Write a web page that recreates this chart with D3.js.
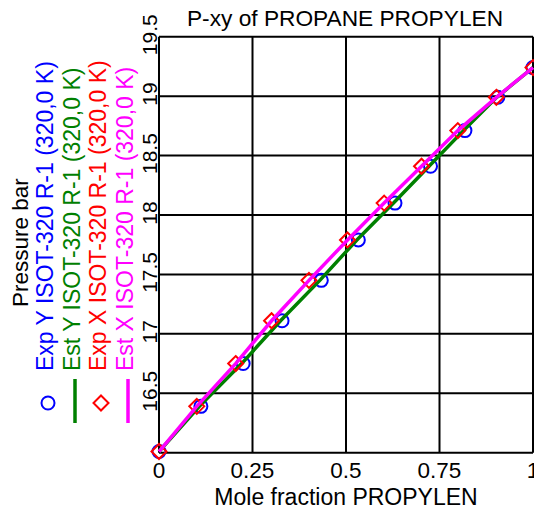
<!DOCTYPE html>
<html>
<head>
<meta charset="utf-8">
<script src="https://cdn.jsdelivr.net/npm/d3@7"></script>
<style>
  body { margin: 0; background: #fff; }
  svg { display: block; font-family: "Liberation Sans", Arial, sans-serif; }
</style>
</head>
<body>
<div id="chart"></div>
<script>
// data
var pressure = [16.01, 16.39, 16.75, 17.11, 17.45, 17.79, 18.10, 18.41, 18.71, 18.99, 19.24];
var expY = [0, 0.112, 0.225, 0.329, 0.434, 0.533, 0.631, 0.726, 0.818, 0.906, 1.0];   // vapour, circles
var expX = [0, 0.101, 0.205, 0.301, 0.401, 0.504, 0.602, 0.702, 0.799, 0.902, 1.0];   // liquid, diamonds
var estY = [0, 0.108, 0.221, 0.325, 0.430, 0.529, 0.627, 0.722, 0.814, 0.903, 1.0];
var estX = [0, 0.101, 0.205, 0.301, 0.401, 0.504, 0.602, 0.702, 0.799, 0.902, 1.0];

var xTicks = [0, 0.25, 0.5, 0.75, 1];
var yTicks = [16, 16.5, 17, 17.5, 18, 18.5, 19, 19.5];
var yLabels = ["16.5", "17", "17.5", "18", "18.5", "19", "19.5"];

var legendText = ["Exp Y ISOT-320 R-1 (320,0 K)", "Est Y ISOT-320 R-1 (320,0 K)",
                  "Exp X ISOT-320 R-1 (320,0 K)", "Est X ISOT-320 R-1 (320,0 K)"];
var legendColor = ["#0000ff", "#008000", "#ff0000", "#ff00ff"];

var width = 534, height = 510;

var svg = d3.select("#chart").append("svg")
    .attr("width", width)
    .attr("height", height);

var x = d3.scaleLinear().domain([0, 1]).range([159, 533]);
var y = d3.scaleLinear().domain([16, 19.5]).range([452.7, 36.7]);

// grid
svg.append("g").selectAll("line.v")
    .data(xTicks).enter().append("line")
    .attr("x1", function(d) { return x(d); })
    .attr("x2", function(d) { return x(d); })
    .attr("y1", y(16)).attr("y2", y(19.5))
    .attr("stroke", "#000").attr("stroke-width", 2);

svg.append("g").selectAll("line.h")
    .data(yTicks).enter().append("line")
    .attr("x1", x(0)).attr("x2", x(1))
    .attr("y1", function(d) { return y(d); })
    .attr("y2", function(d) { return y(d); })
    .attr("stroke", "#000").attr("stroke-width", 2);

// tick labels
svg.append("g").selectAll("text")
    .data(xTicks).enter().append("text")
    .attr("x", function(d) { return x(d); })
    .attr("y", 478)
    .attr("text-anchor", "middle")
    .attr("font-size", 22.5)
    .text(function(d) { return d; });

svg.append("g").selectAll("text")
    .data(yLabels).enter().append("text")
    .attr("transform", function(d) { return "translate(157," + (y(+d) - 2) + ") rotate(-90)"; })
    .attr("text-anchor", "middle")
    .attr("font-size", 21)
    .text(function(d) { return d; });

// titles
svg.append("text")
    .attr("x", 345).attr("y", 26)
    .attr("text-anchor", "middle")
    .attr("font-size", 22.7)
    .text("P-xy of PROPANE PROPYLEN");

svg.append("text")
    .attr("x", 346).attr("y", 505)
    .attr("text-anchor", "middle")
    .attr("font-size", 23)
    .text("Mole fraction PROPYLEN");

svg.append("text")
    .attr("transform", "translate(28,307) rotate(-90)")
    .attr("font-size", 22.5)
    .text("Pressure bar");

// series
var rows = pressure.map(function(p, i) {
    return {p: p, expY: expY[i], expX: expX[i], estY: estY[i], estX: estX[i]};
});

function diamond(cx, cy, r) {
    return "M" + cx + "," + (cy - r) + "L" + (cx + r) + "," + cy +
           "L" + cx + "," + (cy + r) + "L" + (cx - r) + "," + cy + "Z";
}

svg.append("g").selectAll("circle")
    .data(rows).enter().append("circle")
    .attr("cx", function(d) { return x(d.expY); })
    .attr("cy", function(d) { return y(d.p); })
    .attr("r", 6.5)
    .attr("fill", "none")
    .attr("stroke", legendColor[0])
    .attr("stroke-width", 2);

svg.append("path")
    .datum(rows)
    .attr("fill", "none")
    .attr("stroke", legendColor[1])
    .attr("stroke-width", 3.5)
    .attr("d", d3.line().x(function(d) { return x(d.estY); }).y(function(d) { return y(d.p); }));

svg.append("g").selectAll("path")
    .data(rows).enter().append("path")
    .attr("d", function(d) { return diamond(x(d.expX), y(d.p), 7.5); })
    .attr("fill", "none")
    .attr("stroke", legendColor[2])
    .attr("stroke-width", 2);

svg.append("path")
    .datum(rows)
    .attr("fill", "none")
    .attr("stroke", legendColor[3])
    .attr("stroke-width", 3.5)
    .attr("d", d3.line().x(function(d) { return x(d.estX); }).y(function(d) { return y(d.p); }));

// legend, rotated columns
var legX = [53, 80, 106, 133];
var leg = svg.append("g");

leg.selectAll("text")
    .data(legendText).enter().append("text")
    .attr("transform", function(d, i) { return "translate(" + legX[i] + ",371) rotate(-90)"; })
    .attr("font-size", 23)
    .attr("fill", function(d, i) { return legendColor[i]; })
    .text(function(d) { return d; });

leg.append("circle")
    .attr("cx", 48).attr("cy", 403).attr("r", 6.5)
    .attr("fill", "none").attr("stroke", legendColor[0]).attr("stroke-width", 2);
leg.append("line")
    .attr("x1", 75).attr("x2", 75).attr("y1", 379).attr("y2", 423)
    .attr("stroke", legendColor[1]).attr("stroke-width", 3.5);
leg.append("path")
    .attr("d", diamond(101, 403, 7.5))
    .attr("fill", "none").attr("stroke", legendColor[2]).attr("stroke-width", 2);
leg.append("line")
    .attr("x1", 128).attr("x2", 128).attr("y1", 379).attr("y2", 423)
    .attr("stroke", legendColor[3]).attr("stroke-width", 3.5);
</script>
</body>
</html>
